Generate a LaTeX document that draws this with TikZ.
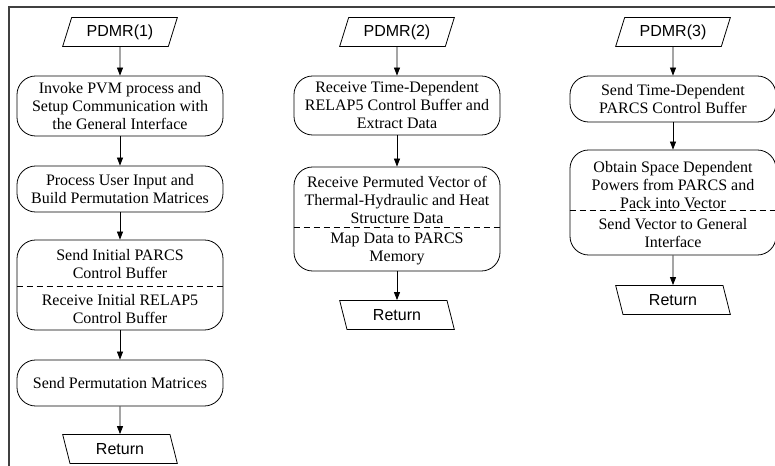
\documentclass[tikz,border=0pt]{standalone}
\usepackage{fontspec}
\setmainfont{Liberation Serif}
\setsansfont{Liberation Sans}
\usetikzlibrary{shapes.geometric,arrows.meta}

\tikzset{
  proc/.style={draw, rounded corners=14pt, minimum width=154.5pt, align=center,
    inner sep=0pt, line width=0.6pt, font=\fontsize{12}{13.5}\selectfont},
  txt/.style={align=center, inner sep=0pt, font=\fontsize{12}{13.5}\selectfont},
  inout/.style={draw, trapezium, trapezium left angle=66, trapezium right angle=114,
    trapezium stretches body, minimum width=86pt, minimum height=21.75pt,
    inner sep=2pt, line width=0.6pt, font=\sffamily\fontsize{12}{14}\selectfont},
  outin/.style={inout, trapezium left angle=114, trapezium right angle=66},
  flow/.style={-{Triangle[length=6pt,width=4.5pt]}, line width=0.6pt},
  split/.style={dash pattern=on 4.5pt off 3pt, line width=0.6pt}
}

\begin{document}
\begin{tikzpicture}[x=0.75pt, y=-0.75pt]
            \useasboundingbox (0,0) rectangle (775,466);
            \draw[line width=1pt, black!75] (9,466) -- (9,7) -- (775,7);

            \node[inout] (pdmr1) at (120,32) {PDMR(1)};
            \node[proc, minimum height=45pt] (invoke) at (120,106) {Invoke PVM process and\\Setup Communication with\\the General Interface};
            \node[proc, minimum height=34.5pt] (userin) at (120,189) {Process User Input and\\Build Permutation Matrices};
            \node[proc, minimum height=67.5pt] (initbuf) at (120,285) {};
            \node[txt] (initsend) at (120,264) {Send Initial PARCS\\Control Buffer};
            \node[txt] (initrecv) at (120,309) {Receive Initial RELAP5\\Control Buffer};
            \coordinate (initcut) at (120,286);
            \node[proc, minimum height=34.5pt] (sendperm) at (120,383) {Send Permutation Matrices};
            \node[outin] (ret1) at (120,449) {Return};

            \draw[split] (initbuf.west |- initcut) -- (initbuf.east |- initcut);
            \draw[flow] (pdmr1) -- (invoke);
            \draw[flow] (invoke) -- (userin);
            \draw[flow] (userin) -- (initbuf);
            \draw[flow] (initbuf) -- (sendperm);
            \draw[flow] (sendperm) -- (ret1);

            \node[inout] (pdmr2) at (397,32) {PDMR(2)};
            \node[proc, minimum height=44.25pt] (recvtd) at (397,105.5) {Receive Time-Dependent\\RELAP5 Control Buffer and\\Extract Data};
            \node[proc, minimum height=78pt] (permbuf) at (397,219) {};
            \node[txt] (permrecv) at (397,200) {Receive Permuted Vector of\\Thermal-Hydraulic and Heat\\Structure Data};
            \node[txt] (permmap) at (397,249) {Map Data to PARCS\\Memory};
            \coordinate (permcut) at (397,227);
            \node[outin] (ret2) at (397,315) {Return};

            \draw[split] (permbuf.west |- permcut) -- (permbuf.east |- permcut);
            \draw[flow] (pdmr2) -- (recvtd);
            \draw[flow] (recvtd) -- (permbuf);
            \draw[flow] (permbuf) -- (ret2);

            \node[inout] (pdmr3) at (673,32) {PDMR(3)};
            \node[proc, minimum height=34.5pt] (sendtd) at (673,99) {Send Time-Dependent\\PARCS Control Buffer};
            \node[proc, minimum height=78.75pt] (powbuf) at (673,202.5) {};
            \node[txt] (powpack) at (673,185) {Obtain Space Dependent\\Powers from PARCS and\\Pack into Vector};
            \node[txt] (powsend) at (673,233.5) {Send Vector to General\\Interface};
            \coordinate (powcut) at (673,210);
            \node[outin] (ret3) at (673,300) {Return};

            \draw[split] (powbuf.west |- powcut) -- (powbuf.east |- powcut);
            \draw[flow] (pdmr3) -- (sendtd);
            \draw[flow] (sendtd) -- (powbuf);
            \draw[flow] (powbuf) -- (ret3);
\end{tikzpicture}
\end{document}
